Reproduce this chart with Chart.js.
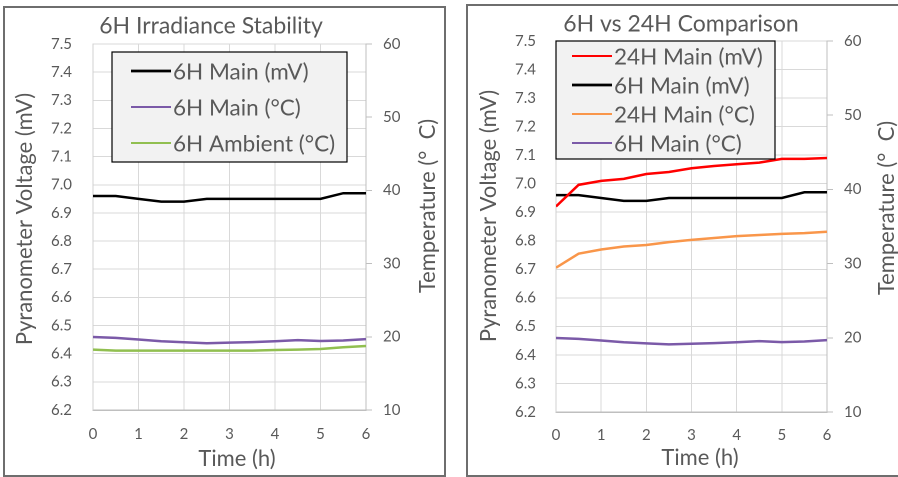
<!DOCTYPE html>
<html><head><meta charset="utf-8">
<script src="https://cdn.jsdelivr.net/npm/chart.js@4.4.1/dist/chart.umd.min.js"></script>
<style>
html,body{margin:0;padding:0;width:898px;height:477px;overflow:hidden;background:#fff;}
.panel{position:absolute;box-sizing:border-box;border:2px solid #6e6e6e;background:#fff;overflow:hidden;}
#p1{left:3px;top:6px;width:443px;height:471px;}
#p2{left:466px;top:4px;width:440px;height:473px;}
canvas{position:absolute;left:0;top:0;}
</style></head><body>
<div class="panel" id="p1"><canvas id="c1" width="439" height="467"></canvas></div>
<div class="panel" id="p2"><canvas id="c2" width="430" height="469"></canvas></div>
<script>
// ---- data ----
const times = [0, 0.5, 1, 1.5, 2, 2.5, 3, 3.5, 4, 4.5, 5, 5.5, 6];
const main6mV = [6.96, 6.96, 6.95, 6.94, 6.94, 6.95, 6.95, 6.95, 6.95, 6.95, 6.95, 6.97, 6.97];
const main6C = [19.98, 19.85, 19.63, 19.4, 19.25, 19.12, 19.2, 19.28, 19.4, 19.55, 19.42, 19.5, 19.68];
const ambient6C = [18.25, 18.11, 18.11, 18.11, 18.11, 18.11, 18.11, 18.11, 18.2, 18.25, 18.34, 18.57, 18.75];
const main24mV = [6.92, 6.996, 7.01, 7.017, 7.034, 7.041, 7.054, 7.062, 7.068, 7.074, 7.087, 7.087, 7.09];
const main24C = [29.45, 31.34, 31.9, 32.3, 32.5, 32.9, 33.2, 33.45, 33.7, 33.85, 34.0, 34.1, 34.3];
const xTicks = [0, 1, 2, 3, 4, 5, 6];
const mvTicks = [6.2, 6.3, 6.4, 6.5, 6.6, 6.7, 6.8, 6.9, 7.0, 7.1, 7.2, 7.3, 7.4, 7.5];
const tempTicks = [10, 20, 30, 40, 50, 60];

const FONT = 'Lato, "Open Sans", sans-serif';
const TXT = '#595959';
const C = {black:'#000000', purple:'#7b5aa8', green:'#91bf50', red:'#ff0000', orange:'#f9964a'};

function pts(ys){ return ys.map((y,i)=>({x:times[i], y:y})); }
function ds(label, ys, color, axis){
  return {label, data:pts(ys), borderColor:color, backgroundColor:color, borderWidth:2.5,
    pointRadius:0, tension:0, yAxisID:axis, fill:false};
}
function setTicks(arr){ return s=>{ s.ticks = arr.map(v=>({value:v})); }; }

function scales(p){
  return {
    x:{type:'linear', min:0, max:6, afterBuildTicks:setTicks(xTicks), afterFit:s=>{s.height=p.xh;},
      grid:{color:'#d9d9d9', drawTicks:false}, border:{color:'#bfbfbf', width:1.5},
      ticks:{padding:p.xpad, color:TXT, font:{family:FONT, size:15}, maxRotation:0, autoSkip:false}},
    y:{type:'linear', position:'left', min:6.2, max:7.5, afterBuildTicks:setTicks(mvTicks), afterFit:s=>{s.width=p.yw;},
      grid:{color:'#d9d9d9', drawTicks:false}, border:{color:'#d0d0d0'},
      ticks:{padding:p.ypad, color:TXT, font:{family:FONT, size:15}, callback:v=>Number(v).toFixed(1), autoSkip:false}},
    y1:{type:'linear', position:'right', min:10, max:60, afterBuildTicks:setTicks(tempTicks), afterFit:s=>{s.width=p.y1w;},
      grid:{drawOnChartArea:false, drawTicks:true, tickLength:6, color:'#bfbfbf'}, border:{color:'#bfbfbf'},
      ticks:{padding:11, color:TXT, font:{family:FONT, size:15}, autoSkip:false}}
  };
}

function overlay(p){
  return {id:'overlay', afterDraw(chart){
    const ctx = chart.ctx; ctx.save();
    ctx.fillStyle = TXT; ctx.textBaseline = 'middle';
    // title
    ctx.font = '23px ' + FONT; ctx.textAlign = 'center';
    ctx.fillText(p.title, p.tx, p.ty);
    // axis titles
    ctx.font = '22px ' + FONT;
    ctx.fillText('Time (h)', p.xtx, p.xty);
    ctx.save(); ctx.translate(p.ylx, p.yly); ctx.rotate(-Math.PI/2);
    ctx.fillText('Pyranometer Voltage (mV)', 0, 0); ctx.restore();
    ctx.save(); ctx.translate(p.yrx, p.yry); ctx.rotate(-Math.PI/2);
    ctx.fillText('Temperature (°  C)', 0, 0); ctx.restore();
    // legend
    const L = p.legend;
    ctx.fillStyle = '#f2f2f2'; ctx.fillRect(L.x, L.y, L.w, L.h);
    ctx.strokeStyle = '#000'; ctx.lineWidth = 1.2; ctx.strokeRect(L.x, L.y, L.w, L.h);
    ctx.font = '22.5px ' + FONT; ctx.textAlign = 'left';
    chart.data.datasets.forEach((d, i) => {
      const yy = L.rows[i];
      ctx.strokeStyle = d.borderColor; ctx.lineWidth = d.borderColor === '#000000' ? 2.8 : 2;
      ctx.beginPath(); ctx.moveTo(L.lx1, yy); ctx.lineTo(L.lx2, yy); ctx.stroke();
      ctx.fillStyle = TXT; ctx.fillText(d.label, L.tx, yy + 1);
    });
    ctx.restore();
  }};
}

function make(id, datasets, p){
  return new Chart(document.getElementById(id), {
    type:'line',
    data:{datasets},
    options:{responsive:false, animation:false, devicePixelRatio:2,
      layout:{padding:{left:0, right:0, top:p.top, bottom:0}},
      plugins:{legend:{display:false}, title:{display:false}, tooltip:{enabled:false}},
      scales:scales(p)},
    plugins:[overlay(p)]
  });
}

make('c1', [
  ds('6H Main (mV)', main6mV, C.black, 'y'),
  ds('6H Main (°C)', main6C, C.purple, 'y1'),
  ds('6H Ambient (°C)', ambient6C, C.green, 'y1')
], {top:36, xh:65, yw:88, y1w:78, xpad:15, ypad:21,
  title:'6H Irradiance Stability', tx:206, ty:18, xtx:232, xty:451,
  ylx:20, yly:211, yrx:423, yry:198,
  legend:{x:107, y:44, w:235, h:110, rows:[63, 99, 135], lx1:126, lx2:166, tx:168}});

make('c2', [
  ds('24H Main (mV)', main24mV, C.red, 'y'),
  ds('6H Main (mV)', main6mV, C.black, 'y'),
  ds('24H Main (°C)', main24C, C.orange, 'y1'),
  ds('6H Main (°C)', main6C, C.purple, 'y1')
], {top:35, xh:63, yw:88, y1w:71, xpad:14, ypad:20,
  title:'6H vs 24H Comparison', tx:213, ty:18, xtx:232, xty:452,
  ylx:21, yly:210, yrx:419, yry:202,
  legend:{x:88, y:35, w:219, h:118, rows:[50, 79, 108, 137], lx1:104, lx2:144, tx:146}});
</script>
</body></html>
